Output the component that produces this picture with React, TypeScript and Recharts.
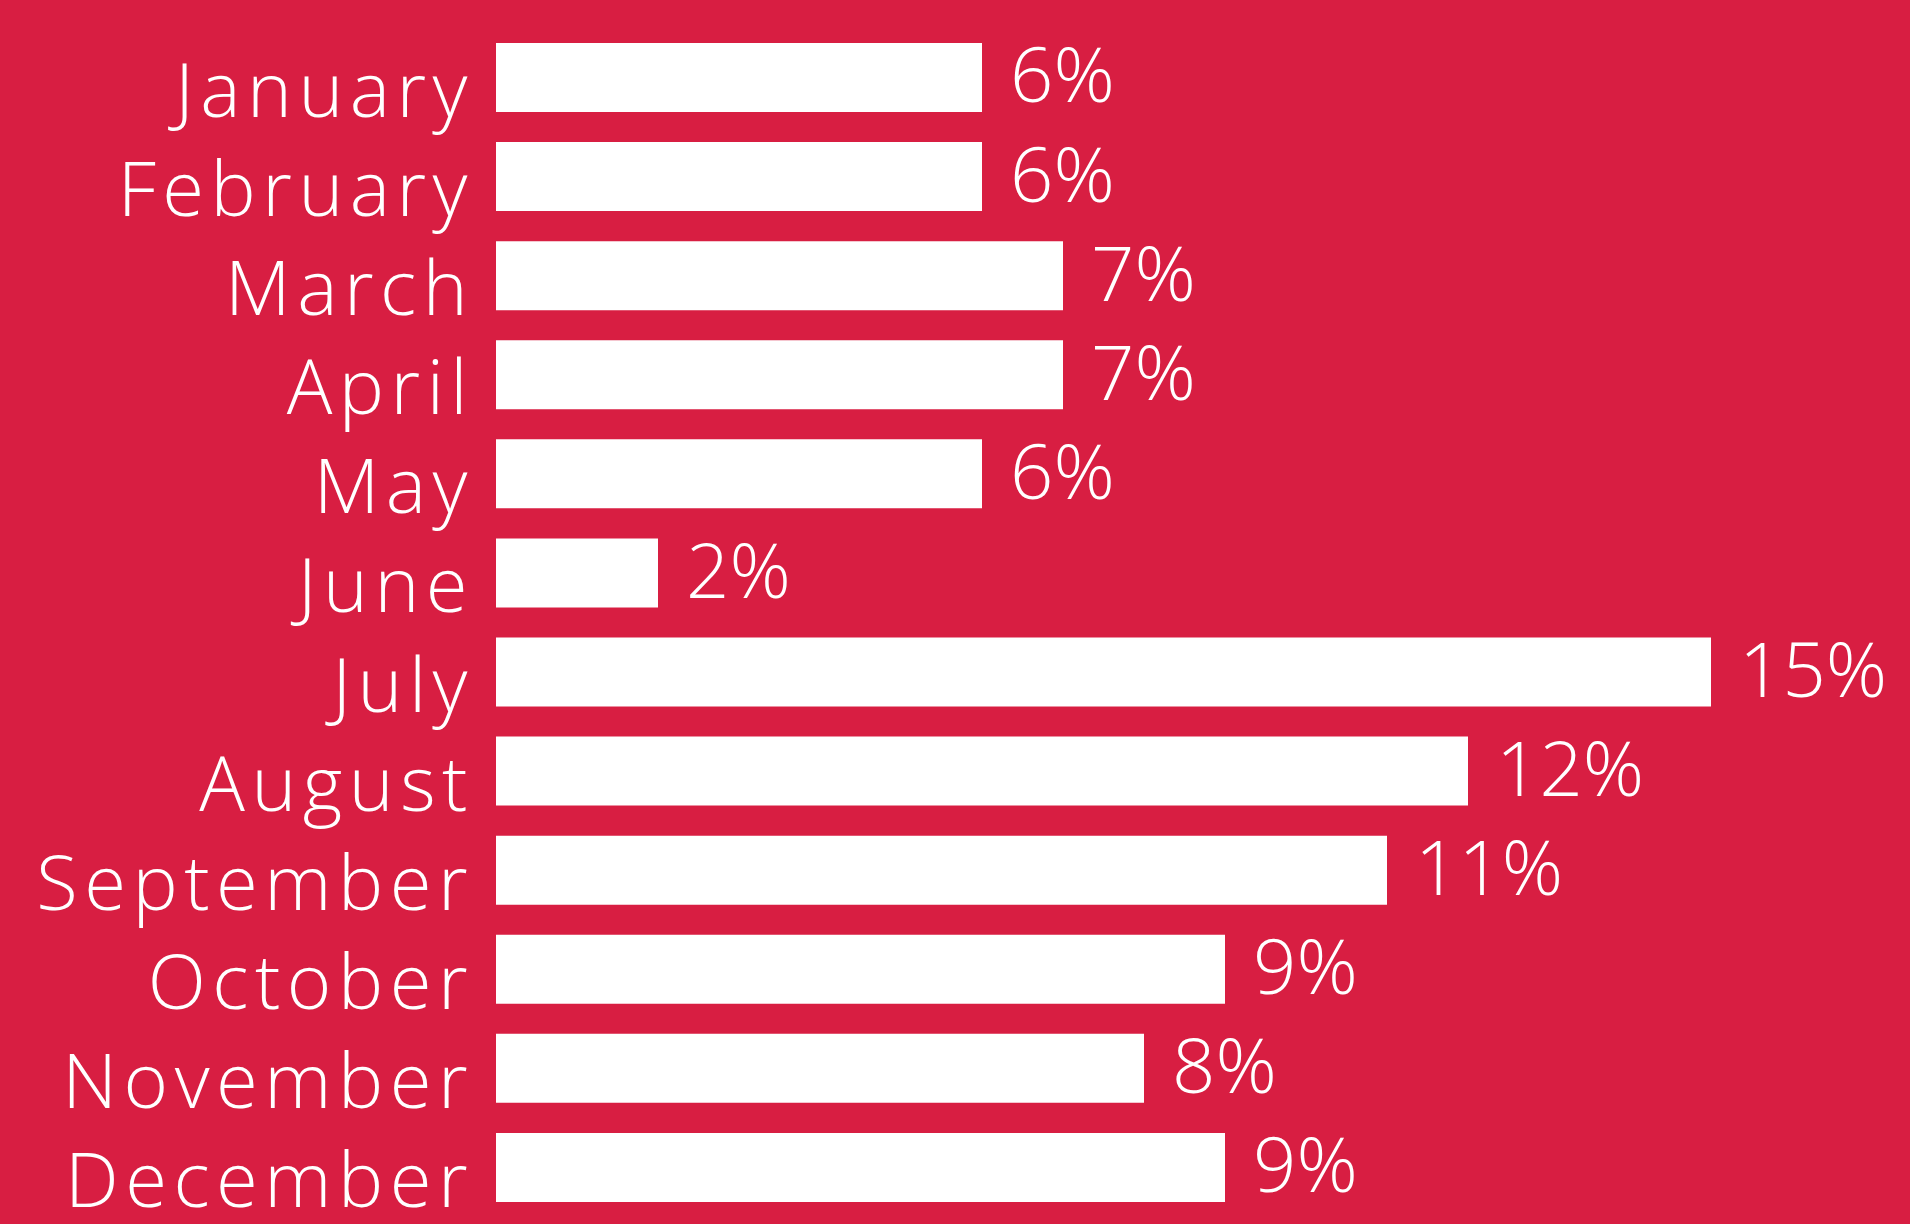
import React from 'react';
import { BarChart, Bar, XAxis, YAxis, LabelList } from 'recharts';

const months = [
  'January', 'February', 'March', 'April', 'May', 'June',
  'July', 'August', 'September', 'October', 'November', 'December',
];
const shares = [6, 6, 7, 7, 6, 2, 15, 12, 11, 9, 8, 9];

const data = months.map((m, i) => ({ month: m, share: shares[i] }));

const BG = '#D81E42';
const FONT = '"Open Sans", Lato, sans-serif';

const MonthTick = (props: any) => {
  const { x, y, payload } = props;
  return (
    <text
      x={x + 8}
      y={y + 10}
      textAnchor="end"
      dominantBaseline="central"
      fill="#fff"
      fontFamily={FONT}
      fontWeight={300}
      fontSize={76}
      letterSpacing={6.5}
    >
      {payload.value}
    </text>
  );
};

const App: React.FC = () => {
  return (
    <div style={{ position: 'fixed', left: 0, top: 0, width: 1910, height: 1224, background: BG }}>
      <BarChart
        width={1910}
        height={1224}
        data={data}
        layout="vertical"
        margin={{ top: 28, right: 37, bottom: 7, left: 0 }}
      >
        <XAxis type="number" domain={[0, 17]} hide />
        <YAxis
          type="category"
          dataKey="month"
          width={496}
          axisLine={false}
          tickLine={false}
          tickSize={0}
          tickMargin={30}
          tick={<MonthTick />}
        />
        <Bar dataKey="share" fill="#fff" barSize={69} isAnimationActive={false}>
          <LabelList
            dataKey="share"
            position="right"
            offset={28}
            formatter={(v: any) => `${v}%`}
            fill="#fff"
            fontFamily={FONT}
            fontWeight={300}
            fontSize={76}
            dy={-2}
          />
        </Bar>
      </BarChart>
    </div>
  );
};

export default App;
